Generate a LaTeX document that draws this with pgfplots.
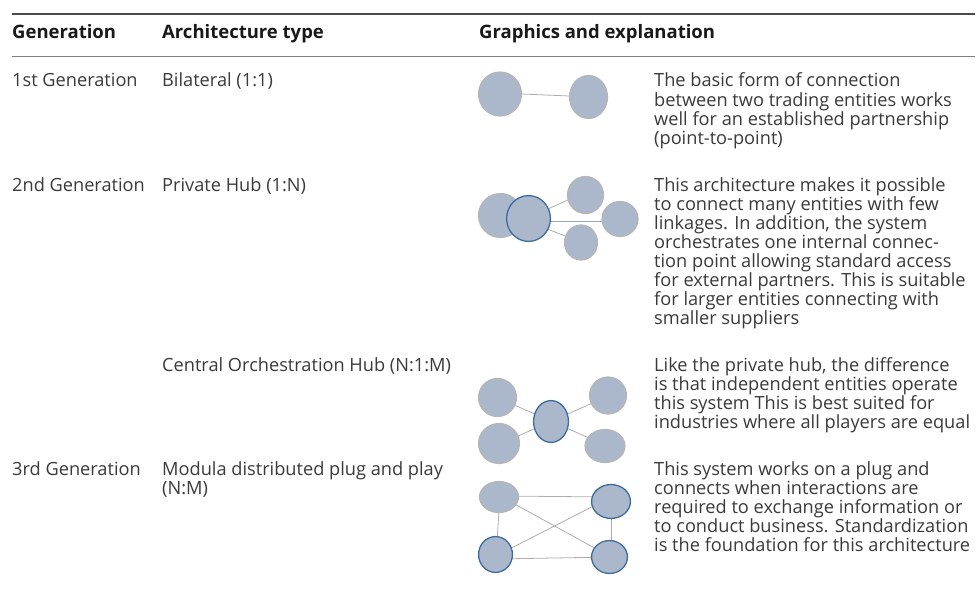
\documentclass[border=0pt]{standalone}
\usepackage{fontspec}
\setmainfont{Open Sans}
\usepackage{pgfplots}
\pgfplotsset{compat=1.18}
\definecolor{txt}{HTML}{3A3A3A}
\definecolor{cfill}{HTML}{ABB8CC}
\definecolor{cgray}{HTML}{B5B5B5}
\definecolor{cblue}{HTML}{3D6D9E}
\definecolor{lgray}{HTML}{ADADAD}
\definecolor{lblue}{HTML}{8EA7C6}
\definecolor{rulec}{HTML}{4A4A4A}
\newcommand{\fs}{\fontsize{18.2bp}{19bp}\selectfont}
\newcommand{\fb}{\fontsize{18.5bp}{19bp}\selectfont\bfseries}
\newcommand{\ent}[5]{\addplot[only marks, mark=*, mark size=1pt, mark options={xscale=#3, yscale=#4, fill=cfill, draw=#5, line width=1.3pt}] coordinates {(#1,#2)};}
\newcommand{\lk}[5]{\addplot[#5, line width=0.8pt] coordinates {(#1,#2) (#3,#4)};}
\newcommand{\tl}[3]{\node[anchor=base west, inner sep=0pt, text=txt, font=\fs] at (axis cs:#1,#2) {#3};}
\newcommand{\hd}[2]{\node[anchor=base west, inner sep=0pt, text=black!90, font=\fb] at (axis cs:#1,39) {#2};}
\begin{document}
\begin{tikzpicture}
\begin{axis}[scale only axis, width=978bp, height=601bp,
  xmin=0, xmax=978, ymin=0, ymax=601, y dir=reverse, hide axis, clip=false]
% rules
\addplot[rulec, line width=1.5bp] coordinates {(12,14) (975,14)};
\addplot[gray, line width=1bp] coordinates {(12,57) (975,57)};
% header
\hd{12}{Generation}
\hd{162}{Architecture type}
\hd{479}{Graphics and explanation}
% row 1
\tl{12}{87}{1st Generation}
\tl{162}{87}{Bilateral (1:1)}
\tl{654}{87}{The basic form of connection}
\tl{654}{106}{between two trading entities works}
\tl{654}{125}{well for an established partnership}
\tl{654}{144}{(point-to-point)}
% row 2
\tl{12}{191}{2nd Generation}
\tl{162}{191}{Private Hub (1:N)}
\tl{654}{191}{This architecture makes it possible}
\tl{654}{210}{to connect many entities with few}
\tl{654}{229}{linkages. In addition, the system}
\tl{654}{248}{orchestrates one internal connec-}
\tl{654}{267}{tion point allowing standard access}
\tl{654}{286}{for external partners. This is suitable}
\tl{654}{305}{for larger entities connecting with}
\tl{654}{324}{smaller suppliers}
% row 3
\tl{162}{371}{Central Orchestration Hub (N:1:M)}
\tl{654}{371}{Like the private hub, the difference}
\tl{654}{390}{is that independent entities operate}
\tl{654}{409}{this system This is best suited for}
\tl{654}{428}{industries where all players are equal}
% row 4
\tl{12}{475}{3rd Generation}
\tl{162}{475}{Modula distributed plug and play}
\tl{162}{494}{(N:M)}
\tl{654}{475}{This system works on a plug and}
\tl{654}{494}{connects when interactions are}
\tl{654}{513}{required to exchange information or}
\tl{654}{532}{to conduct business. Standardization}
\tl{654}{551}{is the foundation for this architecture}
% graphics row 1
\ent{500}{94}{21.5}{22}{cgray}
\ent{588.5}{97}{19}{21.5}{cgray}
\lk{522}{94}{569}{96}{lgray}
% graphics row 2
\ent{500.5}{215.5}{22}{22}{cgray}
\ent{585.5}{195}{18}{18.5}{cgray}
\ent{620}{219}{18}{17.5}{cgray}
\ent{581}{242.5}{16.5}{17.5}{cgray}
\ent{528.5}{218.5}{22}{23}{cblue}
\lk{532}{216}{577}{196}{lgray}
\lk{530}{222}{570}{238}{lgray}
\lk{529}{221}{609}{221}{lblue}
% graphics row 3
\ent{497.5}{397.5}{19}{19}{cgray}
\ent{608}{395.5}{18.5}{18.5}{cgray}
\ent{499}{443.5}{20.5}{20}{cgray}
\ent{605}{446}{20}{16.5}{cgray}
\ent{551}{421.5}{17.5}{21}{cblue}
\lk{503}{400}{605}{445}{lgray}
\lk{500}{444}{606}{397}{lgray}
% graphics row 4
\ent{499}{497}{19.5}{15.5}{cgray}
\ent{611}{501.5}{19.5}{17}{cblue}
\ent{495.5}{554.5}{17}{18}{cblue}
\ent{609.5}{557}{18}{16.5}{cblue}
\lk{500}{496}{611}{497}{lgray}
\lk{500}{496}{496}{556}{lgray}
\lk{496}{559}{611}{557}{lgray}
\lk{611}{497}{611}{557}{lgray}
\lk{500}{496}{611}{557}{lgray}
\lk{496}{556}{611}{497}{lgray}
\end{axis}
\pgfresetboundingbox
\path[use as bounding box] (0,0) rectangle (978bp,601bp);
\end{tikzpicture}
\end{document}
